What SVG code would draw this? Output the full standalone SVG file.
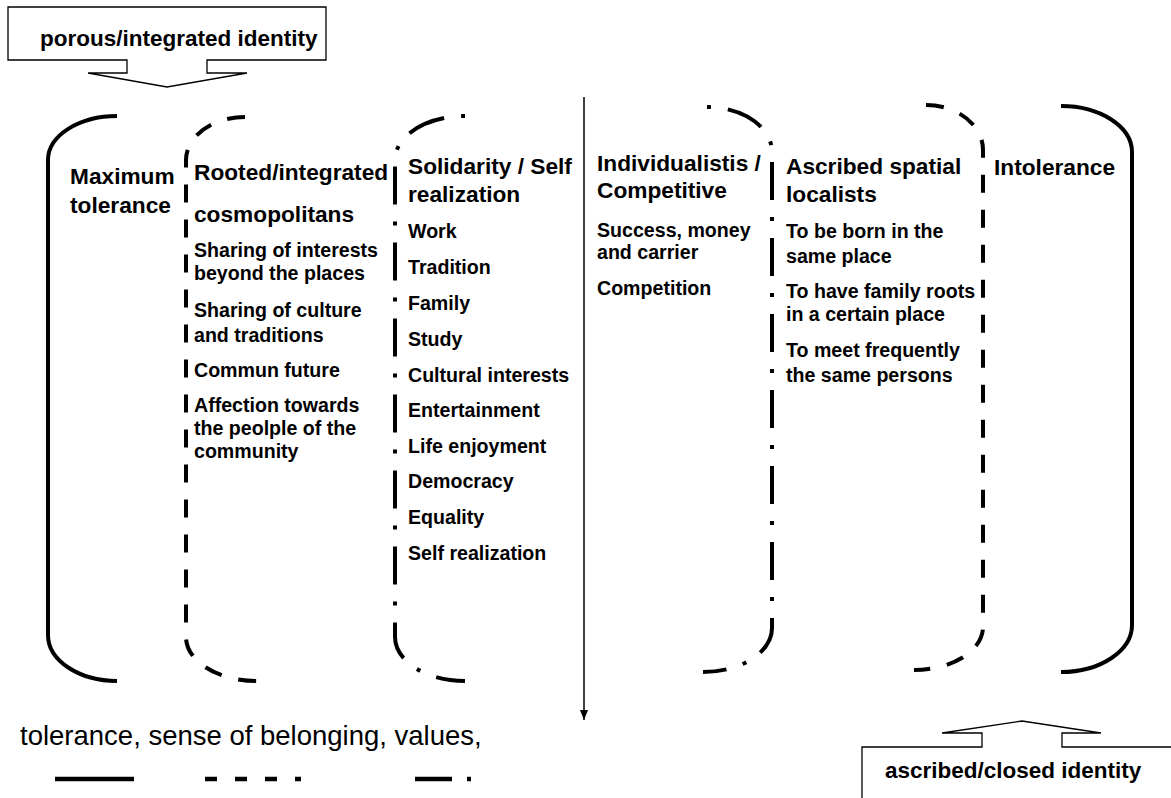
<svg xmlns="http://www.w3.org/2000/svg" width="1171" height="798" viewBox="0 0 1171 798">
<style>
  .h { font-family: "Liberation Sans", Arial, sans-serif; font-weight: bold; font-size: 22.7px; fill: #000; }
  .i { font-family: "Liberation Sans", Arial, sans-serif; font-weight: bold; font-size: 19.6px; fill: #000; }
  .c { font-family: "Liberation Sans", Arial, sans-serif; font-weight: bold; font-size: 22.5px; fill: #000; }
  .leg { font-family: "Liberation Sans", Arial, sans-serif; font-size: 27.5px; fill: #000; }
  .br { fill: none; stroke: #000; stroke-width: 4; }
  .dash { stroke-dasharray: 18 17; }
  .dd { stroke-dasharray: 4 17 38 17; }
  .call { fill: #fff; stroke: #000; stroke-width: 1.3; }
  .lg { stroke: #000; stroke-width: 4.5; }
</style>
<defs>
  <marker id="ah" viewBox="0 0 10 10" refX="10" refY="5" markerWidth="10" markerHeight="10" markerUnits="userSpaceOnUse" orient="auto">
    <path d="M0,1 L10,5 L0,9 Z" fill="#000"/>
  </marker>
</defs>
<rect width="1171" height="798" fill="#fff"/>

<g id="callout-top">
  <polygon class="call" points="8,7 326,7 326,60 207,60 207,73 247,73 167,87 88,73 127,73 127,60 8,60"/>
  <text class="c" x="40" y="46">porous/integrated identity</text>
</g>

<g id="callout-bottom">
  <polygon class="call" points="862,800 862,747 982,747 982,733 942,733 1022,721 1101,733 1062,733 1062,747 1180,747 1180,800"/>
  <text class="c" x="885" y="778">ascribed/closed identity</text>
</g>

<g id="connectors">
  <line x1="584" y1="97" x2="584" y2="720" stroke="#000" stroke-width="1.5" marker-end="url(#ah)"/>
</g>

<g id="bracket-max-tolerance">
  <path class="br" d="M117,116 A69,44 0 0 0 48,160 L48,635 A69,46 0 0 0 117,681"/>
  <text class="h" x="70" y="184">Maximum</text>
  <text class="h" x="70" y="213">tolerance</text>
</g>

<g id="bracket-rooted">
  <path class="br dash" d="M245,117 A59,43 0 0 0 186,160 L186,637 A71,44 0 0 0 257,681"/>
  <text class="h" x="194" y="180">Rooted/integrated</text>
  <text class="h" x="194" y="222">cosmopolitans</text>
  <text class="i" x="194" y="257">Sharing of interests</text>
  <text class="i" x="194" y="280">beyond the places</text>
  <text class="i" x="194" y="317">Sharing of culture</text>
  <text class="i" x="194" y="342">and traditions</text>
  <text class="i" x="194" y="377">Commun future</text>
  <text class="i" x="194" y="412">Affection towards</text>
  <text class="i" x="194" y="435">the peolple of the</text>
  <text class="i" x="194" y="458">community</text>
</g>

<g id="bracket-solidarity">
  <path class="br dd" d="M465,116 A70,44 0 0 0 395,160 L395,637 A70,44 0 0 0 465,681"/>
  <text class="h" x="408" y="174">Solidarity / Self</text>
  <text class="h" x="408" y="202">realization</text>
  <text class="i" x="408" y="238">Work</text>
  <text class="i" x="408" y="274">Tradition</text>
  <text class="i" x="408" y="310">Family</text>
  <text class="i" x="408" y="346">Study</text>
  <text class="i" x="408" y="382">Cultural interests</text>
  <text class="i" x="408" y="417">Entertainment</text>
  <text class="i" x="408" y="453">Life enjoyment</text>
  <text class="i" x="408" y="488">Democracy</text>
  <text class="i" x="408" y="524">Equality</text>
  <text class="i" x="408" y="560">Self realization</text>
</g>

<g id="bracket-individualistic">
  <path class="br dd" d="M707,107 A65,45 0 0 1 772,152 L772,628 A69,44 0 0 1 703,672"/>
  <text class="h" x="597" y="171">Individualistis /</text>
  <text class="h" x="597" y="198">Competitive</text>
  <text class="i" x="597" y="237">Success, money</text>
  <text class="i" x="597" y="259">and carrier</text>
  <text class="i" x="597" y="295">Competition</text>
</g>

<g id="bracket-ascribed">
  <path class="br dash" d="M926,105 A57,45 0 0 1 983,150 L983,627 A69,43 0 0 1 914,670"/>
  <text class="h" x="786" y="174">Ascribed spatial</text>
  <text class="h" x="786" y="202">localists</text>
  <text class="i" x="786" y="238">To be born in the</text>
  <text class="i" x="786" y="263">same place</text>
  <text class="i" x="786" y="298">To have family roots</text>
  <text class="i" x="786" y="321">in a certain place</text>
  <text class="i" x="786" y="357">To meet frequently</text>
  <text class="i" x="786" y="382">the same persons</text>
</g>

<g id="bracket-intolerance">
  <path class="br" d="M1061,106 A71,46 0 0 1 1132,152 L1132,625 A71,47 0 0 1 1061,672"/>
  <text class="h" x="994" y="175">Intolerance</text>
</g>

<g id="legend">
  <text class="leg" x="20" y="745">tolerance, sense of belonging, values,</text>
  <line class="lg" x1="55" y1="779" x2="134" y2="779"/>
  <line class="lg" x1="205" y1="779" x2="217" y2="779"/>
  <line class="lg" x1="235" y1="779" x2="247" y2="779"/>
  <line class="lg" x1="265" y1="779" x2="277" y2="779"/>
  <line class="lg" x1="295" y1="779" x2="301" y2="779"/>
  <line class="lg" x1="415" y1="779" x2="452" y2="779"/>
  <line class="lg" x1="467" y1="779" x2="471" y2="779"/>
</g>
</svg>
